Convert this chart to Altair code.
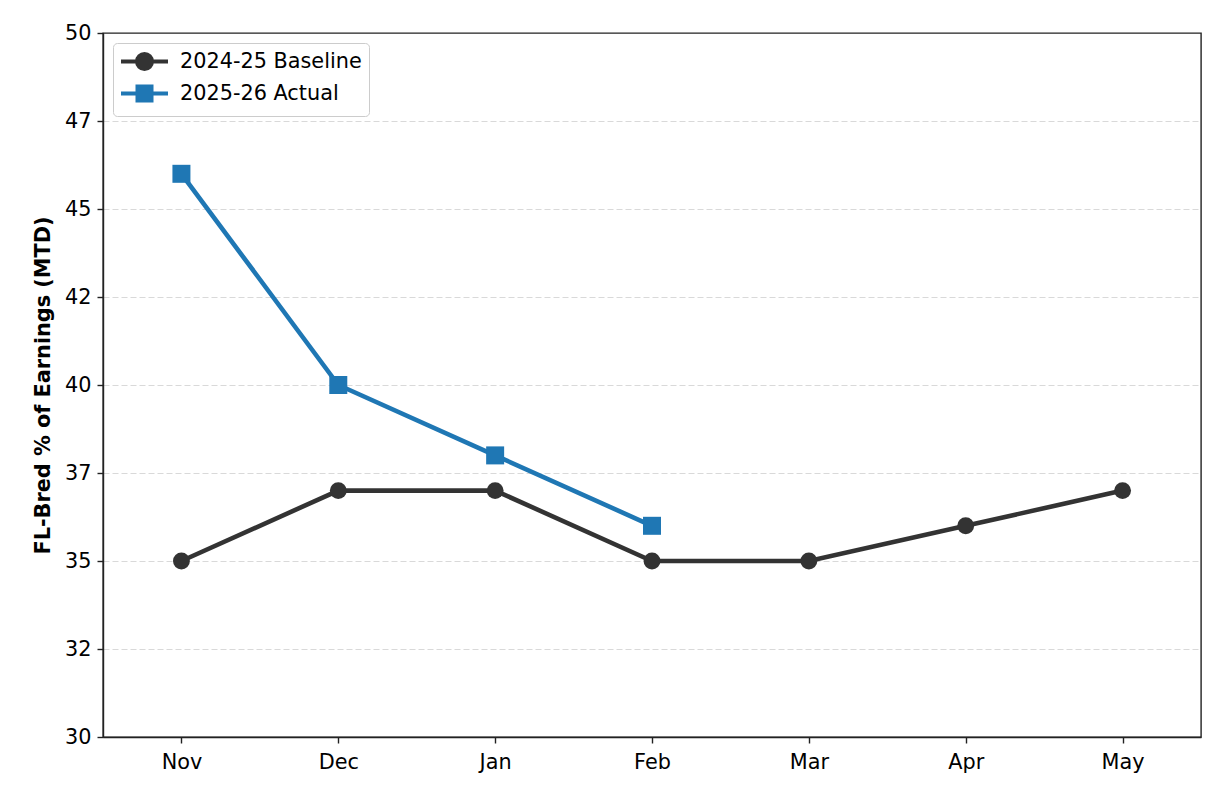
import altair as alt
import pandas as pd

months = ["Nov", "Dec", "Jan", "Feb", "Mar", "Apr", "May"]
baseline = [35.0, 37.0, 37.0, 35.0, 35.0, 36.0, 37.0]
actual = [46.0, 40.0, 38.0, 36.0, None, None, None]
series_names = ["2024-25 Baseline", "2025-26 Actual"]
series_colors = ["#333333", "#1f77b4"]
y_ticks = [30, 32.5, 35, 37.5, 40, 42.5, 45, 47.5, 50]

rows = []
for m, b, a in zip(months, baseline, actual):
    rows.append({"month": m, "series": series_names[0], "value": b})
    if a is not None:
        rows.append({"month": m, "series": series_names[1], "value": a})
df = pd.DataFrame(rows)

FONT = "DejaVu Sans"
FS = 20.8

x_enc = alt.X("month:N", sort=months,
              scale=alt.Scale(type="point", padding=0.5),
              axis=alt.Axis(title=None, labelAngle=0))
y_enc = alt.Y("value:Q",
              scale=alt.Scale(domain=[30, 50], nice=False, zero=False),
              axis=alt.Axis(title="FL-Bred % of Earnings (MTD)", values=y_ticks,
                            labelExpr="floor(datum.value)", grid=True,
                            gridOpacity=alt.condition("datum.value <= 30 || datum.value >= 50",
                                                      alt.value(0), alt.value(1))))

color_scale = alt.Scale(domain=series_names, range=series_colors)

base = alt.Chart(df)

lines = base.mark_line(strokeWidth=4.6).encode(
    x=x_enc, y=y_enc,
    color=alt.Color("series:N", scale=color_scale, legend=None),
    detail="series:N",
)

pts_base = base.transform_filter(alt.datum.series == series_names[0]).mark_point(
    filled=True, shape="circle", size=285, opacity=1
).encode(x=x_enc, y=y_enc,
         color=alt.Color("series:N", scale=color_scale, legend=None))

pts_act = base.transform_filter(alt.datum.series == series_names[1]).mark_point(
    filled=True, shape="square", size=324, opacity=1
).encode(x=x_enc, y=y_enc,
         color=alt.Color("series:N", scale=color_scale, legend=None))

# legend symbols (unit = sqrt(361)/2 = 9.5 px): a line segment plus a marker
# drawn as concentric rings so that a 4px stroke looks solid
def ring(r):
    return f"M{r},0A{r},{r},0,1,1,-{r},0A{r},{r},0,1,1,{r},0Z"

def box(h):
    return f"M-{h},-{h}H{h}V{h}H-{h}Z"

path_circle = "M-2.474,0H2.474" + "".join(ring(r) for r in (0.789, 0.474, 0.158))
path_square = "M-2.474,0H2.474" + "".join(box(h) for h in (0.737, 0.421, 0.105))

leg = alt.Legend(title=None, orient="none", legendX=10, legendY=10,
                 labelFont=FONT, labelFontSize=FS, labelColor="black", labelLimit=400,
                 symbolSize=361, symbolStrokeWidth=4, labelOffset=24, symbolOffset=13,
                 rowPadding=1, padding=7, fillColor="rgba(255,255,255,0.8)",
                 strokeColor="#cccccc", cornerRadius=4, symbolOpacity=1)

legend_layer = base.transform_filter("false").mark_point(
    filled=False, size=361, strokeWidth=4, opacity=1
).encode(
    x=x_enc, y=y_enc,
    color=alt.Color("series:N", scale=color_scale, legend=leg),
    shape=alt.Shape("series:N", scale=alt.Scale(domain=series_names,
                                                range=[path_circle, path_square]), legend=leg),
)

chart = alt.layer(legend_layer, lines, pts_base, pts_act).properties(
    width=1098, height=704,
    autosize=alt.AutoSizeParams(type="none"),
    padding={"left": 95, "top": 25, "right": 22, "bottom": 50},
).configure_view(
    stroke="#222222", strokeWidth=1.4
).configure_axis(
    labelFont=FONT, labelFontSize=FS, labelColor="black",
    titleFont=FONT, titleFontSize=FS, titleFontWeight="bold", titleColor="black",
    domainColor="#222222", domainWidth=1.4,
    tickColor="#222222", tickWidth=1.4, tickSize=6,
    gridColor="#d9d9d9", gridWidth=1.2, gridDash=[6, 3],
    labelPadding=9,
).configure_axisY(
    titlePadding=11, labelPadding=6
)

chart.save("out.html", embed_options={"renderer": "svg", "actions": False})
